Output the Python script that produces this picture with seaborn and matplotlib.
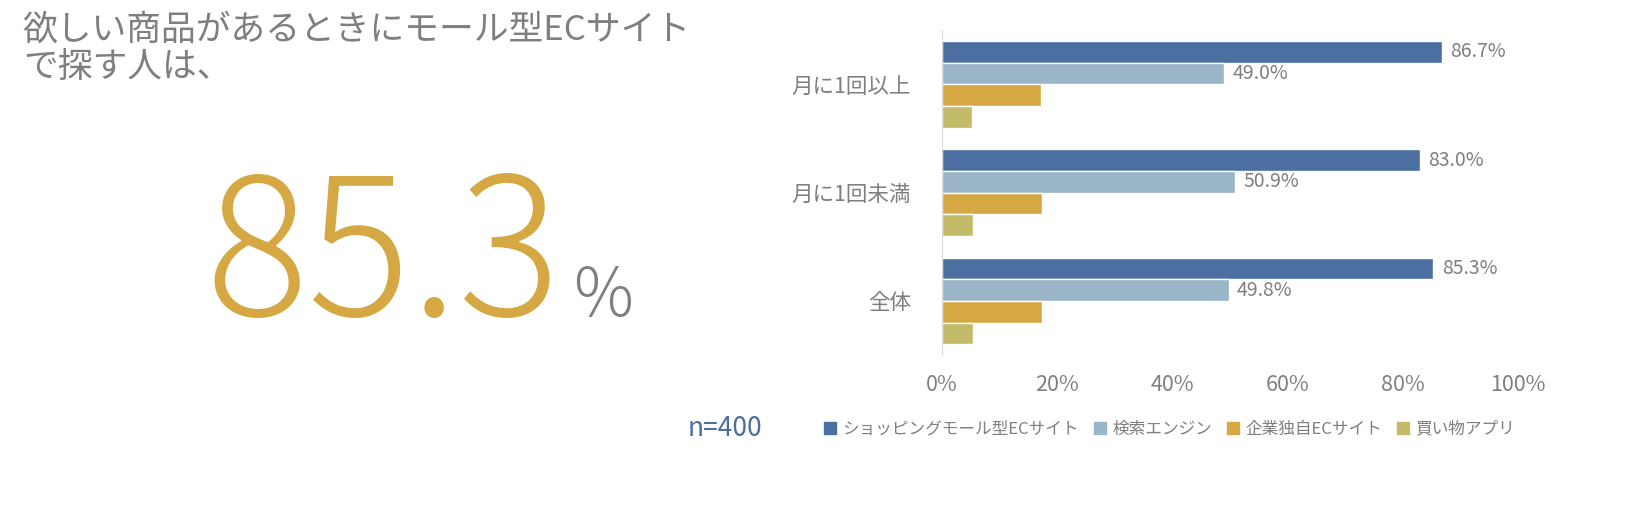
import matplotlib
matplotlib.use("Agg")
import matplotlib.pyplot as plt
import seaborn as sns
import pandas as pd

categories = ["月に1回以上", "月に1回未満", "全体"]
series = ["ショッピングモール型ECサイト", "検索エンジン", "企業独自ECサイト", "買い物アプリ"]
mall = [86.7, 83.0, 85.3]
search = [49.0, 50.9, 49.8]
own = [17.3, 17.5, 17.5]
app = [5.2, 5.5, 5.4]
colors = ["#4a6fa0", "#9ab4c8", "#d6a844", "#c2bb6a"]

sns.set_style("white")
plt.rcParams['font.family'] = ['Noto Sans CJK JP', 'DejaVu Sans']
gray = "#7f7f7f"

rows = []
for s, vals in zip(series, [mall, search, own, app]):
    for c, v in zip(categories, vals):
        rows.append({"cat": c, "series": s, "val": v})
df = pd.DataFrame(rows)

fig = plt.figure(figsize=(16.29, 5.05), dpi=100)
ax = fig.add_axes([0.578, 0.297, 0.354, 0.643])
sns.barplot(data=df, y="cat", x="val", hue="series", order=categories, hue_order=series,
            palette=colors, orient="h", ax=ax, width=0.8, saturation=1, legend=False)
for i, cont in enumerate(ax.containers[:2]):
    ax.bar_label(cont, labels=[f"{v:.1f}%" for v in cont.datavalues], padding=6,
                 color=gray, fontsize=14)
ax.set_xlim(0, 100)
ax.set_xticks(range(0, 101, 20))
ax.set_xticklabels([f"{t}%" for t in range(0, 101, 20)], color=gray, fontsize=15.5)
ax.tick_params(axis='y', labelsize=15.5, labelcolor=gray, length=0, pad=22)
ax.tick_params(axis='x', length=0, pad=14)
ax.set_xlabel(""); ax.set_ylabel("")
for s in ["top", "right", "bottom"]:
    ax.spines[s].set_visible(False)
ax.spines["left"].set_color("#d9d9d9")

from matplotlib.patches import Patch
handles = [Patch(color=c, label=s) for c, s in zip(colors, series)]
fig.legend(handles=handles, loc="center", bbox_to_anchor=(0.718, 0.15), ncol=4, frameon=False,
           fontsize=12, labelcolor=gray, handlelength=0.7, handleheight=0.7,
           handletextpad=0.4, columnspacing=0.9)
fig.text(0.422, 0.152, "n=400", color="#4a6fa0", fontsize=19, va="center")

fig.text(0.014, 0.975, "欲しい商品があるときにモール型ECサイト\nで探す人は、", color=gray,
         fontsize=25, va="top", linespacing=1.1)
fig.text(0.126, 0.375, "85.3", color="#d6a844", fontsize=138, weight="light", va="baseline")
fig.text(0.352, 0.375, "%", color=gray, fontsize=48, weight="light", va="baseline")

fig.savefig("out.png", dpi=100)
